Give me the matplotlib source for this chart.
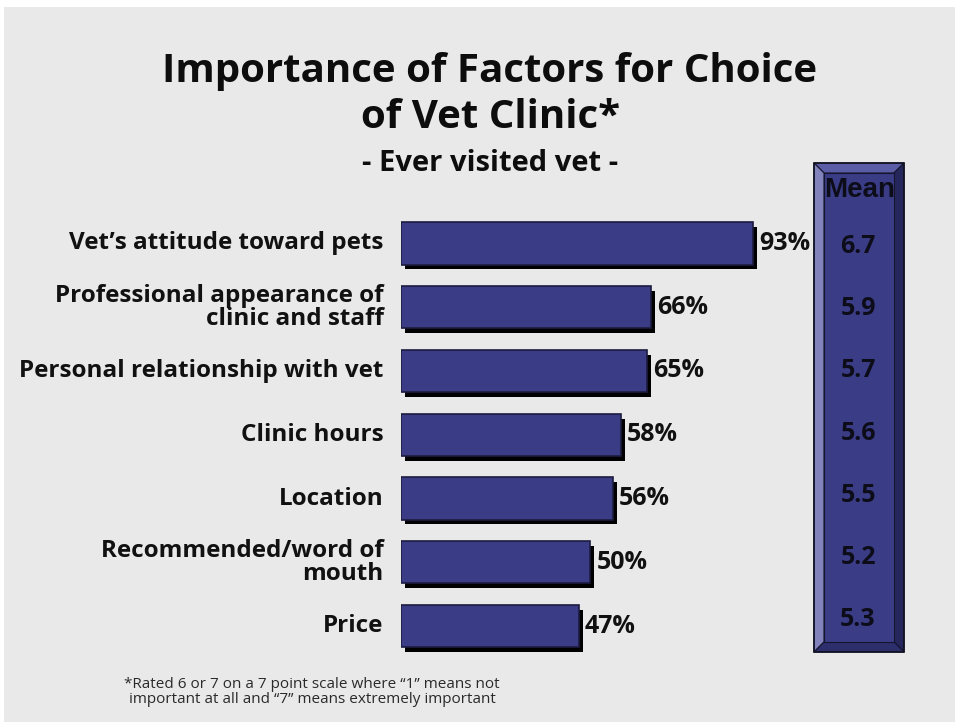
import matplotlib
matplotlib.use("Agg")
import matplotlib.pyplot as plt
import matplotlib.patheffects as pe
from matplotlib.patches import Polygon, Rectangle

categories = [
    "Vet\u2019s attitude toward pets",
    "Professional appearance of\nclinic and staff",
    "Personal relationship with vet",
    "Clinic hours",
    "Location",
    "Recommended/word of\nmouth",
    "Price",
]
pct_values = [93, 66, 65, 58, 56, 50, 47]
mean_values = [6.7, 5.9, 5.7, 5.6, 5.5, 5.2, 5.3]

W, H = 955, 722
FONT = ["Open Sans", "DejaVu Sans"]
ARIAL = ["Liberation Sans", "DejaVu Sans"]
BAR = "#3a3c86"
BG = "#e9e9e9"

fig = plt.figure(figsize=(W / 100, H / 100), dpi=100)
fig.patch.set_facecolor("white")


def fx(px):
    return px / W


def fy(py):
    return 1 - py / H


# grey panel behind everything
fig.patches.append(Rectangle((fx(4), 0), 1 - fx(4), fy(7), transform=fig.transFigure,
                             facecolor=BG, edgecolor="none", zorder=-10))

# bar chart axes
left, right = 401, 779.5
top, bottom = 211.6, 657.9
ax = fig.add_axes([fx(left), fy(bottom), fx(right - left), (bottom - top) / H], zorder=5)
ax.set_xlim(0, 100)
ax.set_ylim(len(categories) - 0.5, -0.5)
ax.axis("off")

ypos = list(range(len(categories)))
bars = ax.barh(ypos, pct_values, height=0.66, color=BAR, edgecolor="#1c1c40", linewidth=1.2,
               zorder=3)
for b in bars:
    b.set_path_effects([pe.SimplePatchShadow(offset=(3, -3.5), shadow_rgbFace="black", alpha=1),
                        pe.Normal()])

for y, v, lab in zip(ypos, pct_values, categories):
    ax.text(v + 1.6, y, f"{v}%", va="center", ha="left", fontsize=18, fontweight="bold",
            family=FONT, color="#111111")
    ax.text(-4.6, y, lab, va="center", ha="right", fontsize=17.5, fontweight="bold",
            family=FONT, color="#111111", linespacing=0.92)

# bevelled "Mean" column
x0, x1, y0, y1 = 814, 904, 163, 652
b = 10
face = [(x0 + b, y0 + b), (x1 - b, y0 + b), (x1 - b, y1 - b), (x0 + b, y1 - b)]
bevels = [
    ([(x0, y0), (x1, y0), (x1 - b, y0 + b), (x0 + b, y0 + b)], "#5b5ca6"),  # top
    ([(x0, y0), (x0 + b, y0 + b), (x0 + b, y1 - b), (x0, y1)], "#8283bd"),  # left
    ([(x1, y0), (x1, y1), (x1 - b, y1 - b), (x1 - b, y0 + b)], "#25265c"),  # right
    ([(x0, y1), (x0 + b, y1 - b), (x1 - b, y1 - b), (x1, y1)], "#2d2e6c"),  # bottom
    (face, BAR),
]
for pts, col in bevels:
    fig.patches.append(Polygon([(fx(px), fy(py)) for px, py in pts], closed=True,
                               transform=fig.transFigure, facecolor=col,
                               edgecolor="#15152e", linewidth=0.8, zorder=1))
fig.patches.append(Rectangle((fx(x0), fy(y1)), fx(x1 - x0), (y1 - y0) / H,
                             transform=fig.transFigure, facecolor="none",
                             edgecolor="#111122", linewidth=1.2, zorder=2))

cx = (x0 + x1) / 2
fig.text(fx(cx + 1), fy(190), "Mean", ha="center", va="center", fontsize=20, fontweight="bold",
         family=ARIAL, color="#0d0d1a")
mean_top, mean_bot = 246, 620
step = (mean_bot - mean_top) / (len(mean_values) - 1)
for i, m in enumerate(mean_values):
    fig.text(fx(cx - 1), fy(mean_top + i * step), f"{m:.1f}", ha="center", va="center",
             fontsize=18, fontweight="bold", family=FONT, color="#0d0d1a")

# titles
fig.text(fx(490), fy(82), "Importance of Factors for Choice", ha="center", va="baseline",
         fontsize=29, fontweight="bold", family=FONT, color="#0d0d0d")
fig.text(fx(490), fy(128), "of Vet Clinic*", ha="center", va="baseline",
         fontsize=29, fontweight="bold", family=FONT, color="#0d0d0d")
fig.text(fx(490), fy(171), "- Ever visited vet -", ha="center", va="baseline",
         fontsize=21, fontweight="bold", family=FONT, color="#0d0d0d")

# footnote
fig.text(fx(312), fy(692),
         "*Rated 6 or 7 on a 7 point scale where \u201c1\u201d means not\n"
         "important at all and \u201c7\u201d means extremely important",
         ha="center", va="center", fontsize=11, family=FONT, color="#2a2a2a",
         linespacing=1.0)

fig.savefig("out.png", dpi=100, facecolor=fig.get_facecolor())
